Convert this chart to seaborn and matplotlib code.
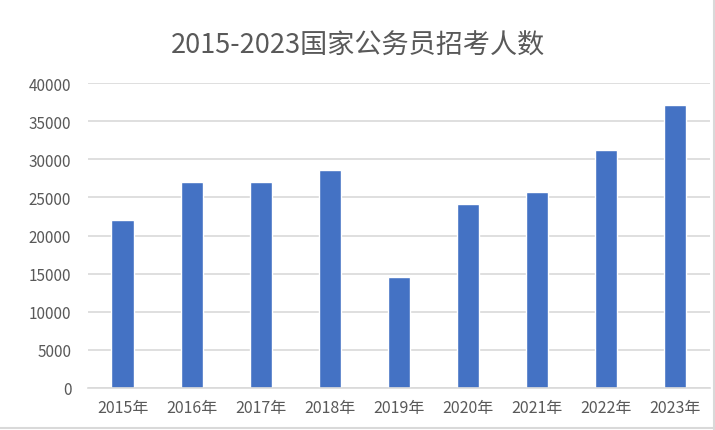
import pandas as pd
import numpy as np
import seaborn as sns
import matplotlib.pyplot as plt
from matplotlib.lines import Line2D

# 数据：2015-2023 国家公务员招考人数
years = ['2015年', '2016年', '2017年', '2018年', '2019年', '2020年', '2021年', '2022年', '2023年']
counts = [22000, 27000, 27000, 28550, 14500, 24100, 25700, 31200, 37100]
title = '2015-2023国家公务员招考人数'

df = pd.DataFrame({'year': years, 'count': counts})

sns.set_theme(style='white')
plt.rcParams['font.family'] = ['Noto Sans CJK SC', 'DejaVu Sans']

fig = plt.figure(figsize=(7.15, 4.31), dpi=100)
ax = fig.add_axes([0.123, 0.0975, 0.870, 0.7075])

sns.barplot(data=df, x='year', y='count', color='#4472C4', width=0.32,
            saturation=1, ax=ax)

ax.set_ylim(0, 40000)
ax.set_yticks(np.arange(0, 40001, 5000))
ax.set_xlim(-0.5, len(years) - 0.5)
ax.yaxis.grid(True, color='#d9d9d9', linewidth=1.2)
ax.set_axisbelow(True)
for s in ['top', 'right', 'left']:
    ax.spines[s].set_visible(False)
ax.spines['bottom'].set_color('#d9d9d9')
ax.spines['bottom'].set_linewidth(1.2)
ax.set_xlabel('')
ax.set_ylabel('')
ax.tick_params(axis='both', length=0, labelsize=11, colors='#595959')
ax.tick_params(axis='x', pad=8, labelsize=11.5)
ax.tick_params(axis='y', pad=12)

fig.suptitle(title, y=0.925, fontsize=19.5, color='#595959')

# 边框线（截图边缘）
fig.add_artist(Line2D([0.998, 0.998], [0.0, 1.0], color='#d9d9d9', lw=1.5))
fig.add_artist(Line2D([0.0, 1.0], [0.005, 0.005], color='#d9d9d9', lw=1.5))

fig.savefig('out.png', dpi=100)
